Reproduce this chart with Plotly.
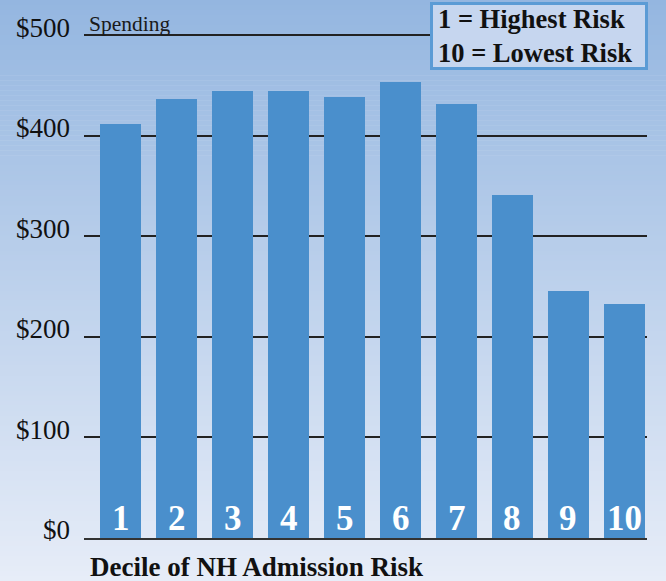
import plotly.graph_objects as go

deciles = [1, 2, 3, 4, 5, 6, 7, 8, 9, 10]
decile_labels = ["1", "2", "3", "4", "5", "6", "7", "8", "9", "10"]
spending = [412, 436, 444, 444, 438, 453, 431, 341, 246, 233]
tick_vals = [0, 100, 200, 300, 400, 500]
tick_text = ["$0", "$100", "$200", "$300", "$400", "$500"]

W, H = 666, 581
ML, MR, MT, MB = 84, 19, 25, 43
YMAX = 510
SERIF = "Liberation Serif, Times New Roman, serif"

fig = go.Figure()
fig.add_trace(go.Bar(
    x=deciles, y=spending, width=0.732,
    marker=dict(color="#4a8fcc", line=dict(width=0)),
    hoverinfo="skip",
))

# gradient background via stripes
shapes = []
top = (148, 182, 224)
bot = (231, 237, 248)
n = 116
plot_h = H - MT - MB
for i in range(n):
    p0 = H * i / n
    p1 = H * (i + 1) / n + 0.6
    t = (i + 0.5) / n
    c = tuple(round(top[k] + (bot[k] - top[k]) * t) for k in range(3))
    y0 = (H - MB - p0) / plot_h
    y1 = (H - MB - p1) / plot_h
    shapes.append(dict(type="rect", xref="paper", yref="paper",
                       x0=-0.2, x1=1.1, y0=y1, y1=y0, layer="below",
                       line=dict(width=0), fillcolor="rgb(%d,%d,%d)" % c))

annotations = []
for x, lab in zip(deciles, decile_labels):
    annotations.append(dict(x=x, y=0, xref="x", yref="y", text="<b>%s</b>" % lab,
                            showarrow=False, yanchor="bottom", yshift=-2,
                            font=dict(family=SERIF, size=35, color="white")))

annotations.append(dict(xref="paper", yref="y", x=(87 - ML) / (W - ML - MR), y=500,
                        xanchor="left", yanchor="bottom", yshift=-3,
                        text="Spending", showarrow=False,
                        font=dict(family=SERIF, size=21.5, color="#1a1a1a")))

annotations.append(dict(xref="paper", yref="paper", x=(88 - ML) / (W - ML - MR), y=0,
                        xanchor="left", yanchor="top", yshift=-12,
                        text="<b>Decile of NH Admission Risk</b>", showarrow=False,
                        font=dict(family=SERIF, size=27, color="#111")))

annotations.append(dict(xref="paper", yref="paper", x=(430 - ML) / (W - ML - MR), y=1,
                        xanchor="left", yanchor="top", yshift=MT - 2,
                        text="<b>1 = Highest Risk<br>10 = Lowest Risk</b>",
                        align="left", showarrow=False, width=202, height=52,
                        bgcolor="#c6d6ef", bordercolor="#5b9bd5", borderwidth=3, borderpad=5,
                        font=dict(family=SERIF, size=26.5, color="#111")))

fig.update_layout(
    width=W, height=H,
    margin=dict(l=ML, r=MR, t=MT, b=MB, autoexpand=False),
    paper_bgcolor="white", plot_bgcolor="rgba(0,0,0,0)",
    showlegend=False, bargap=0,
    shapes=shapes, annotations=annotations,
    xaxis=dict(range=[0.348, 10.402], showticklabels=False, showgrid=False, zeroline=False,
               showline=True, linecolor="#333", linewidth=2, ticks="", automargin=False),
    yaxis=dict(range=[0, YMAX], tickvals=tick_vals, ticktext=tick_text,
               showgrid=True, gridcolor="#222", gridwidth=2, zeroline=False,
               showline=False, ticks="", ticklabelstandoff=13, ticklabelshift=-8,
               automargin=False,
               tickfont=dict(family=SERIF, size=27, color="#111")),
)

fig.write_html("out.html")
